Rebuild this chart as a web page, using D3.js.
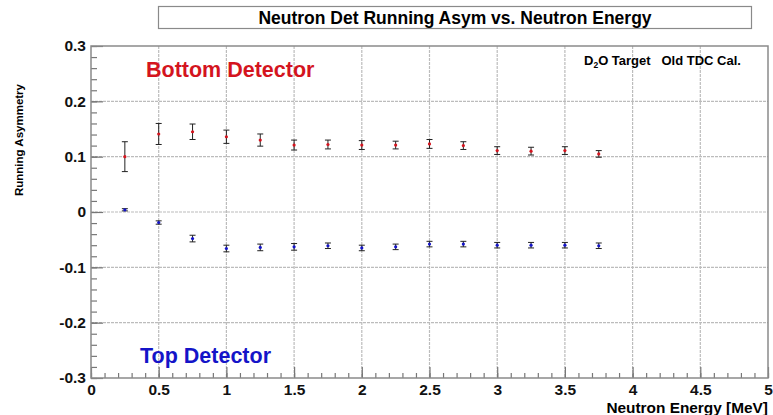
<!DOCTYPE html>
<html>
<head>
<meta charset="utf-8">
<script src="https://cdn.jsdelivr.net/npm/d3@7"></script>
<style>
  body { margin: 0; background: #fff; }
  svg { display: block; font-family: "Liberation Sans", Arial, sans-serif; }
</style>
</head>
<body>
<svg width="773" height="415"></svg>
<script>
// Data
var energy = [0.25, 0.5, 0.75, 1.0, 1.25, 1.5, 1.75, 2.0, 2.25, 2.5, 2.75, 3.0, 3.25, 3.5, 3.75];
var bottomAsym = [0.100, 0.141, 0.145, 0.136, 0.130, 0.121, 0.122, 0.121, 0.121, 0.123, 0.120, 0.111, 0.110, 0.111, 0.105];
var bottomErr  = [0.027, 0.019, 0.014, 0.012, 0.011, 0.009, 0.008, 0.008, 0.007, 0.008, 0.007, 0.007, 0.007, 0.007, 0.006];
var topAsym = [0.004, -0.019, -0.048, -0.066, -0.064, -0.063, -0.061, -0.065, -0.063, -0.058, -0.058, -0.060, -0.060, -0.060, -0.061];
var topErr  = [0.002, 0.003, 0.006, 0.006, 0.006, 0.006, 0.005, 0.005, 0.005, 0.005, 0.005, 0.005, 0.005, 0.005, 0.005];

var xTicks = [0, 0.5, 1, 1.5, 2, 2.5, 3, 3.5, 4, 4.5, 5];
var yTicks = [-0.3, -0.2, -0.1, 0, 0.1, 0.2, 0.3];

var svg = d3.select("svg"),
    padL = 91, padR = 768, padT = 46, padB = 378;

var x = d3.scaleLinear().domain([0, 5]).range([padL, padR]);
var y = d3.scaleLinear().domain([-0.3, 0.3]).range([padB, padT]);

// plain hyphen minus, like the original
var fmt = d => String(Math.round(d * 10) / 10);

// title box
svg.append("rect")
    .attr("x", 158.5).attr("y", 6.5).attr("width", 593).attr("height", 22)
    .attr("fill", "#fff").attr("stroke", "#8a8a8a").attr("stroke-width", 1.2);
svg.append("text")
    .attr("x", 455).attr("y", 24)
    .attr("text-anchor", "middle")
    .attr("font-size", "17.5px").attr("font-weight", "bold")
    .text("Neutron Det Running Asym vs. Neutron Energy");

// grid
var g = svg.append("g");
g.selectAll("line.vg")
    .data(xTicks.slice(1, -1))
    .join("line")
        .attr("class", "vg")
        .attr("x1", d => x(d)).attr("x2", d => x(d))
        .attr("y1", padT).attr("y2", padB)
        .attr("stroke", "#bcbcbc").attr("stroke-width", 1.2)
        .attr("stroke-dasharray", "3,1");
g.selectAll("line.hg")
    .data(yTicks.slice(1, -1))
    .join("line")
        .attr("class", "hg")
        .attr("x1", padL).attr("x2", padR)
        .attr("y1", d => y(d)).attr("y2", d => y(d))
        .attr("stroke", "#bcbcbc").attr("stroke-width", 1.2)
        .attr("stroke-dasharray", "3,1");

// axes with inward ticks
var xMinor = svg.append("g").attr("transform", "translate(0," + padB + ")")
    .call(d3.axisBottom(x).tickValues(d3.range(0, 5.001, 0.1)).tickSize(-5).tickFormat(""));
var xAxis = svg.append("g").attr("transform", "translate(0," + padB + ")")
    .call(d3.axisBottom(x).tickValues(xTicks).tickSize(-11).tickPadding(6).tickFormat(fmt));

var yMinor = svg.append("g").attr("transform", "translate(" + padL + ",0)")
    .call(d3.axisLeft(y).tickValues(d3.range(-0.3, 0.3001, 0.02)).tickSize(-6).tickFormat(""));
var yAxis = svg.append("g").attr("transform", "translate(" + padL + ",0)")
    .call(d3.axisLeft(y).tickValues(yTicks).tickSize(-12).tickPadding(5).tickFormat(fmt));

[xMinor, xAxis, yMinor, yAxis].forEach(function(a) {
    a.selectAll("path").remove();
    a.selectAll("line").attr("stroke", "#777").attr("stroke-width", 1.2);
    a.selectAll("text").attr("font-size", "15.5px").attr("font-weight", "bold").attr("fill", "#111");
});

// frame
svg.append("rect")
    .attr("x", padL).attr("y", padT).attr("width", padR - padL).attr("height", padB - padT)
    .attr("fill", "none").attr("stroke", "#8a8a8a").attr("stroke-width", 1.5);

// axis titles
svg.append("text")
    .attr("transform", "translate(23,84) rotate(-90)")
    .attr("text-anchor", "end")
    .attr("font-size", "11.5px").attr("font-weight", "bold")
    .text("Running Asymmetry");
svg.append("text")
    .attr("x", 768).attr("y", 413)
    .attr("text-anchor", "end")
    .attr("font-size", "15.4px").attr("font-weight", "bold")
    .text("Neutron Energy [MeV]");

// labels
svg.append("text")
    .attr("x", 146).attr("y", 77)
    .attr("font-size", "21.5px").attr("font-weight", "bold").attr("fill", "#d4141e")
    .text("Bottom Detector");
svg.append("text")
    .attr("x", 140).attr("y", 363)
    .attr("font-size", "21.5px").attr("font-weight", "bold").attr("fill", "#1414c8")
    .text("Top Detector");
var note = svg.append("text")
    .attr("x", 584).attr("y", 65)
    .attr("xml:space", "preserve")
    .attr("font-size", "13px").attr("font-weight", "bold");
note.append("tspan").text("D");
note.append("tspan").attr("font-size", "8.5px").attr("dy", 3).text("2");
note.append("tspan").attr("dy", -3).text("O Target   Old TDC Cal.");

// error bars + markers
function drawSeries(vals, errs, color) {
    var pts = energy.map((e, i) => ({e: e, v: vals[i], err: errs[i]}));
    var s = svg.append("g");
    s.selectAll("line.eb")
        .data(pts).join("line")
            .attr("class", "eb")
            .attr("x1", d => x(d.e)).attr("x2", d => x(d.e))
            .attr("y1", d => y(d.v + d.err)).attr("y2", d => y(d.v - d.err))
            .attr("stroke", "#222").attr("stroke-width", 1);
    s.selectAll("line.capt")
        .data(pts).join("line")
            .attr("class", "capt")
            .attr("x1", d => x(d.e) - 3).attr("x2", d => x(d.e) + 3)
            .attr("y1", d => y(d.v + d.err)).attr("y2", d => y(d.v + d.err))
            .attr("stroke", "#222").attr("stroke-width", 1);
    s.selectAll("line.capb")
        .data(pts).join("line")
            .attr("class", "capb")
            .attr("x1", d => x(d.e) - 3).attr("x2", d => x(d.e) + 3)
            .attr("y1", d => y(d.v - d.err)).attr("y2", d => y(d.v - d.err))
            .attr("stroke", "#222").attr("stroke-width", 1);
    s.selectAll("circle")
        .data(pts).join("circle")
            .attr("cx", d => x(d.e)).attr("cy", d => y(d.v))
            .attr("r", 1.6).attr("fill", color);
}
drawSeries(bottomAsym, bottomErr, "#d4141e");
drawSeries(topAsym, topErr, "#1414c8");
</script>
</body>
</html>
